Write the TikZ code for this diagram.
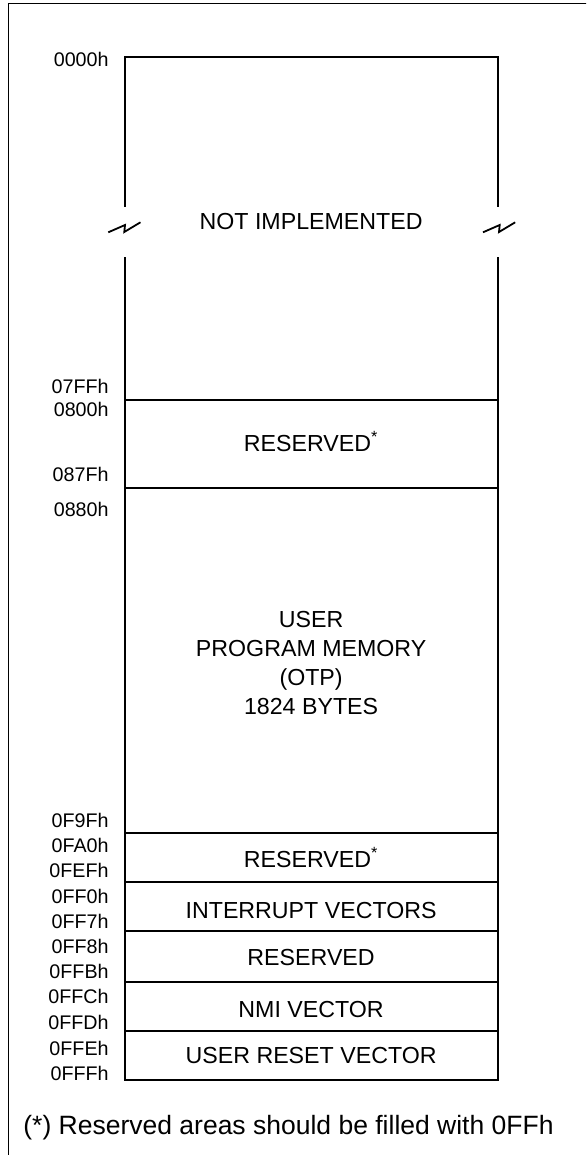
\documentclass[tikz,border=0pt]{standalone}
\usepackage{fontspec}
\setmainfont{Liberation Sans}
\begin{document}
\begin{tikzpicture}[x=0.5pt,y=-0.5pt,
  addr/.style={anchor=base east,inner sep=0pt,font=\fontsize{9.85}{12}\selectfont},
  region/.style={anchor=base,inner sep=0pt,font=\fontsize{11.6}{14}\selectfont},
  boxline/.style={line width=1.0pt},
  frameline/.style={line width=0.7pt},
  breakmark/.style={line width=0.9pt,line join=miter}]
\useasboundingbox (0,0) rectangle (586,1155);
% outer frame (cropped at right and bottom)
\begin{scope}
\clip (0,0) rectangle (586,1155);
\draw[frameline] (8.3,1160) -- (8.3,3.5) -- (595,3.5);
\end{scope}
% memory box corners
\coordinate (TL) at (124.5,57);
\coordinate (TR) at (497.7,57);
\coordinate (BL) at (124.5,1080);
\coordinate (BR) at (497.7,1080);
\coordinate (LgapA) at (124.5,207);
\coordinate (LgapB) at (124.5,257);
\coordinate (RgapA) at (497.7,207);
\coordinate (RgapB) at (497.7,257);
\draw[boxline] (LgapA) -- (TL) -- (TR) -- (RgapA);
\draw[boxline] (LgapB) -- (BL) -- (BR) -- (RgapB);
% break marks
\draw[breakmark] (108.3,232.3) -- (125,225) -- (124.3,232) -- (140.5,222.3);
\draw[breakmark] (483,232.3) -- (499.7,225) -- (499,232) -- (515.2,222.3);
% section dividers
\foreach \yy in {400,488,833,882,931,982,1031}
  \draw[boxline] (124.5,\yy) -- (497.7,\yy);
% region texts
\node[region] (ni) at (311.1,229.3) {NOT IMPLEMENTED};
\node[region] (r1) at (311.1,451.3) {RESERVED\textsuperscript{*}};
\node[align=center,anchor=center,inner sep=0pt,font=\fontsize{11.6}{14.65}\selectfont] (upm) at (311.1,663) {USER\\PROGRAM MEMORY\\(OTP)\\1824 BYTES};
\node[region] (r2) at (311.1,867.3) {RESERVED\textsuperscript{*}};
\node[region] (iv) at (311.1,918.3) {INTERRUPT VECTORS};
\node[region] (r3) at (311.1,965) {RESERVED};
\node[region] (nmi) at (311.1,1017.3) {NMI VECTOR};
\node[region] (urv) at (311.1,1063.3) {USER RESET VECTOR};
% address labels
\node[addr] (a0) at (109,66.4) {0000h};
\node[addr] (a1) at (109,393) {07FFh};
\node[addr] (a2) at (109,416) {0800h};
\node[addr] (a3) at (109,481) {087Fh};
\node[addr] (a4) at (109,516) {0880h};
\node[addr] (a5) at (109,827.7) {0F9Fh};
\node[addr] (a6) at (109,852) {0FA0h};
\node[addr] (a7) at (109,877.7) {0FEFh};
\node[addr] (a8) at (109,903) {0FF0h};
\node[addr] (a9) at (109,928.7) {0FF7h};
\node[addr] (a10) at (109,953.7) {0FF8h};
\node[addr] (a11) at (109,978.7) {0FFBh};
\node[addr] (a12) at (109,1003.7) {0FFCh};
\node[addr] (a13) at (109,1029) {0FFDh};
\node[addr] (a14) at (109,1055) {0FFEh};
\node[addr] (a15) at (109,1080) {0FFFh};
% footnote
\node[anchor=base west,inner sep=0pt,font=\fontsize{13.25}{16}\selectfont] (fn) at (23,1134) {(*) Reserved areas should be filled with 0FFh};
\end{tikzpicture}
\end{document}
